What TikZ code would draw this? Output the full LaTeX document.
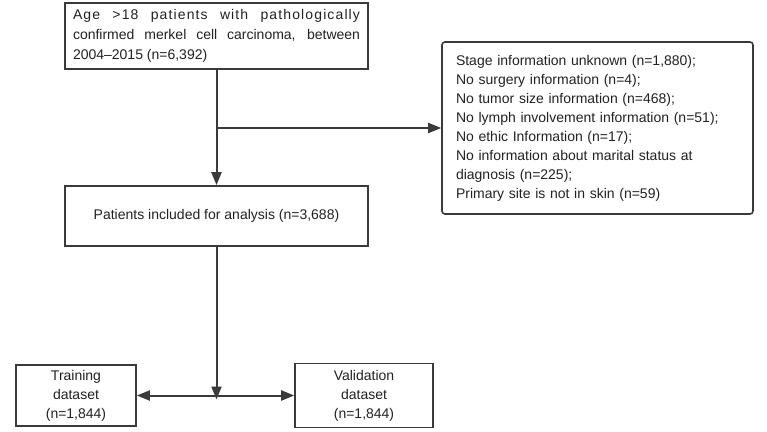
\documentclass[tikz,border=0pt]{standalone}
\usepackage{fontspec}
\setmainfont{Liberation Sans}
\usetikzlibrary{arrows.meta}
\definecolor{linec}{HTML}{3A3A3A}
\definecolor{textc}{HTML}{222222}
\begin{document}
\begin{tikzpicture}[x=1pt,y=-1pt,
  box/.style={draw=linec,line width=1.6pt,text=textc,inner sep=0pt,font=\fontsize{14}{19}\selectfont},
  conn/.style={draw=linec,line width=2pt},
  arr/.style={conn,-{Triangle[length=13pt,width=10pt]}}]
\useasboundingbox[fill=white] (0,0) rectangle (767,431);
\node[box,minimum width=303pt,minimum height=66pt,text width=287pt,align=justify,font=\fontsize{14}{20}\selectfont] (top) at (216.5,36)
  {{\addfontfeatures{LetterSpace=8}Age >18 patients with pathologically}\linebreak confirmed merkel cell carcinoma, between\linebreak 2004--2015 (n=6,392)};
\node[box,rounded corners=3pt,minimum width=311pt,minimum height=172pt,text width=283pt,align=left] (excl) at (597.5,128)
  {Stage information unknown (n=1,880);\\
   No surgery information (n=4);\\
   No tumor size information (n=468);\\
   No lymph involvement information (n=51);\\
   No ethic Information (n=17);\\
   No information about marital status at\\
   diagnosis (n=225);\\
   Primary site is not in skin (n=59)};
\node[box,minimum width=303pt,minimum height=60pt,align=center] (pat) at (216.5,216)
  {Patients included for analysis (n=3,688)};
\node[box,minimum width=120pt,minimum height=61pt,align=center] (train) at (76,395.5)
  {Training\\dataset\\(n=1,844)};
\node[box,minimum width=138pt,minimum height=64pt,align=center] (val) at (364,395.5)
  {Validation\\dataset\\(n=1,844)};
\coordinate (br) at (top.south |- excl.west);
\coordinate (jn) at (pat.south |- train.east);
\coordinate (jt) at ([yshift=-4pt]jn);
\draw[arr] (top.south) -- (pat.north);
\draw[arr] (br) -- (excl.west);
\draw[arr] (pat.south) -- (jt);
\draw[arr] (jn) -- (train.east);
\draw[arr] (jn) -- (val.west);
\end{tikzpicture}
\end{document}
